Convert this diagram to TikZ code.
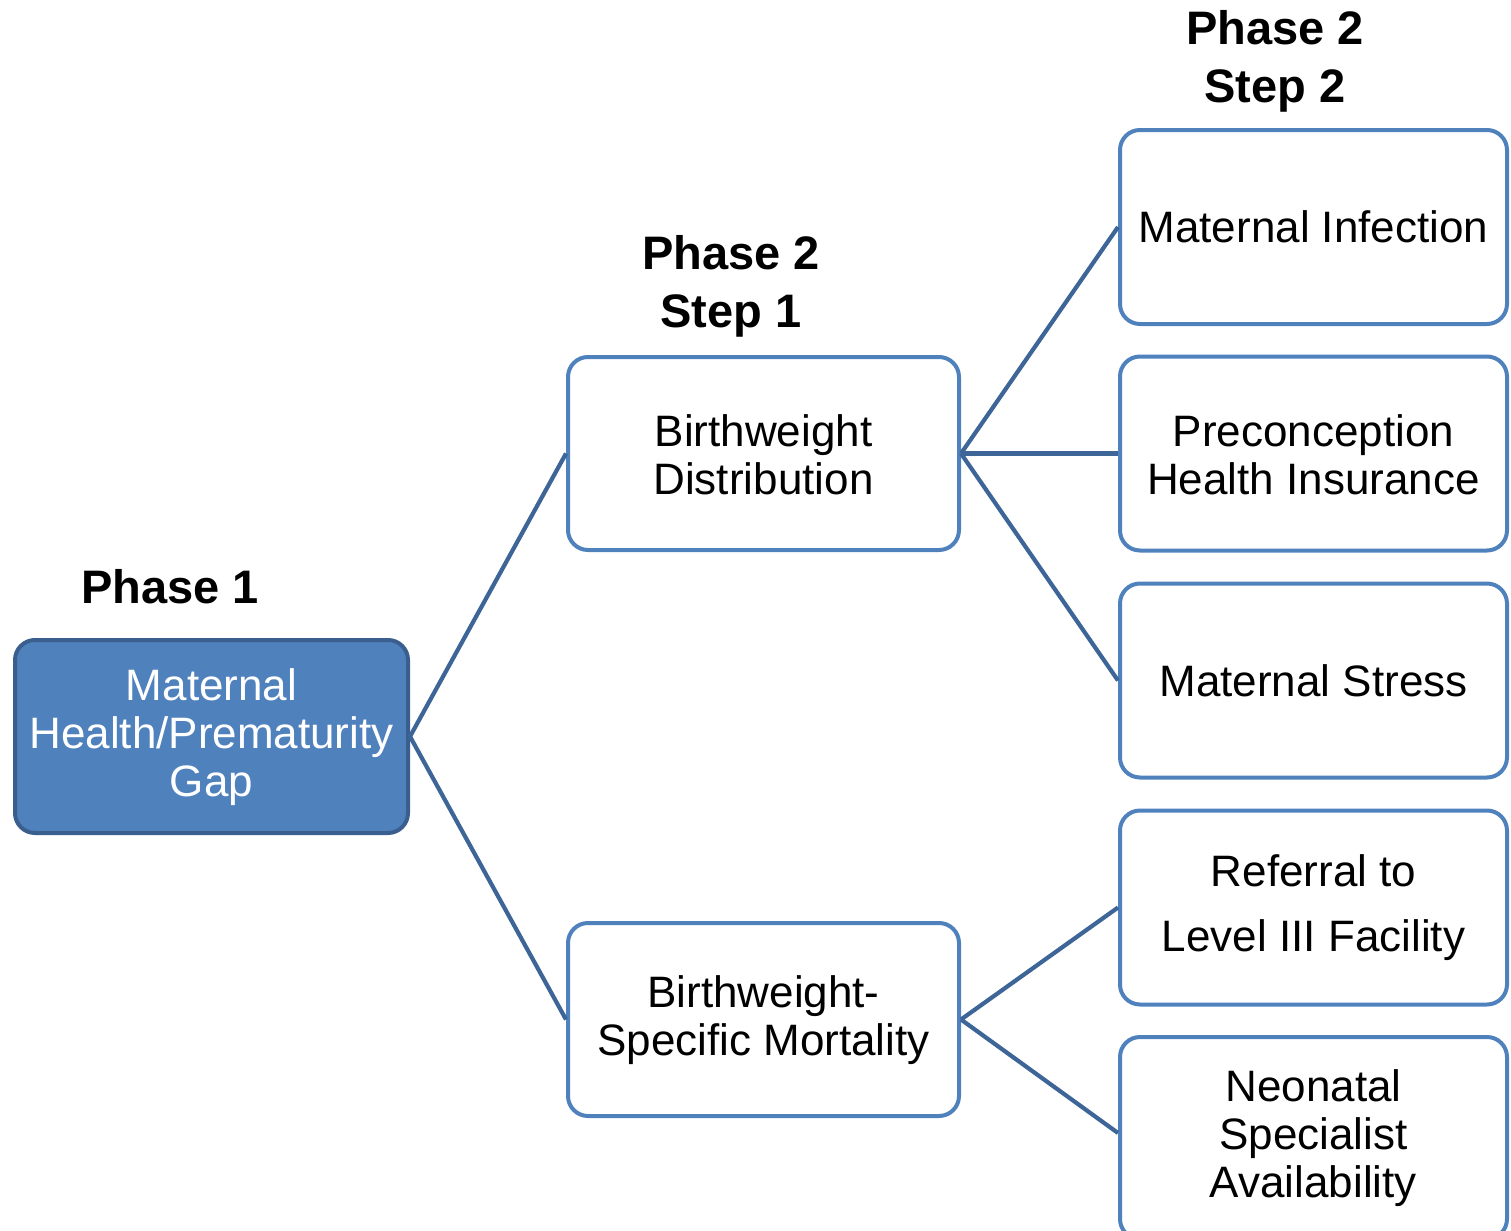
\documentclass[tikz,border=0pt]{standalone}
\usepackage{fontspec}
\setmainfont{Liberation Sans}
\definecolor{boxblue}{RGB}{79,129,189}
\definecolor{rootedge}{RGB}{58,95,142}
\definecolor{linkblue}{RGB}{61,101,151}
\tikzset{
  boxbase/.style={rectangle, rounded corners=10pt, line width=2pt, align=center,
    font=\fontsize{22}{24}\selectfont, inner sep=0pt},
  rootbox/.style={boxbase, draw=rootedge, fill=boxblue, text=white,
    minimum width=196.5pt, minimum height=96.5pt},
  midbox/.style={boxbase, draw=boxblue, fill=white, text=black,
    minimum width=195.5pt, minimum height=96.5pt},
  leafbox/.style={boxbase, draw=boxblue, fill=white, text=black,
    minimum width=193.5pt, minimum height=97pt},
  phaselabel/.style={align=center, font=\fontsize{23.5}{29}\selectfont\bfseries, inner sep=0pt},
  link/.style={draw=linkblue, line width=2.1pt}
}
\begin{document}
\begin{tikzpicture}[x=0.5pt, y=-0.5pt]
\useasboundingbox (0,0) rectangle (1511,1231);
\clip (0,0) rectangle (1511,1231);

% phase headings
\node[phaselabel] (ph1) at (170,587) {Phase 1};
\node[phaselabel] (ph21) at (731,286) {Phase 2\\Step 1};
\node[phaselabel] (ph22) at (1275,61) {Phase 2\\Step 2};

% root
\node[rootbox] (root) at (211.5,736.5) {\strut Maternal\\Health/Prematurity\\Gap};

% step 1
\node[midbox] (bw) at (763.5,453.5) {\strut Birthweight\\Distribution};
\node[midbox] (bsm) at (763.5,1019.5) {\strut Birthweight-\\Specific Mortality};

% step 2
\node[leafbox] (inf) at (1313.5,227) {Maternal Infection};
\node[leafbox] (ins) at (1313.5,453.5) {\strut Preconception\\Health Insurance};
\node[leafbox] (str) at (1313.5,680.5) {Maternal Stress};
\node[leafbox, font=\fontsize{22}{32.5}\selectfont] (ref) at (1313.5,907.5) {Referral to\\Level III Facility};
\node[leafbox, minimum height=101pt] (neo) at (1313.5,1138) {Neonatal\\Specialist\\Availability};

% connectors
\draw[link] (root.east) -- (bw.west);
\draw[link] (root.east) -- (bsm.west);
\draw[link] (bw.east) -- (inf.west);
\draw[link] (bw.east) -- (ins.west);
\draw[link] (bw.east) -- (str.west);
\draw[link] (bsm.east) -- (ref.west);
\draw[link] (bsm.east) -- ([yshift=2.5pt]neo.west);
\end{tikzpicture}
\end{document}
